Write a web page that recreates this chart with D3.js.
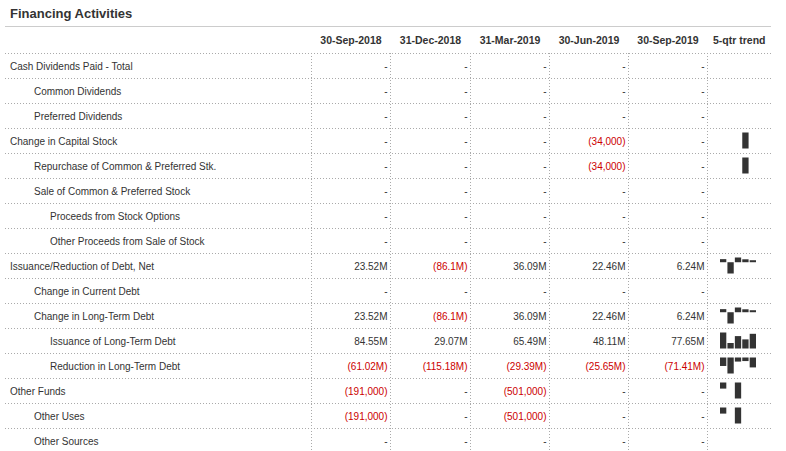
<!DOCTYPE html><html><head><meta charset="utf-8">
<script src="https://d3js.org/d3.v7.min.js"></script>
<style>body{margin:0;background:#fff}</style></head><body><svg id="c" width="786" height="451"></svg>
<script>
const title = "Financing Activities";
const periods = ["30-Sep-2018","31-Dec-2018","31-Mar-2019","30-Jun-2019","30-Sep-2019"];
const labels = ["Cash Dividends Paid - Total","Common Dividends","Preferred Dividends","Change in Capital Stock","Repurchase of Common & Preferred Stk.","Sale of Common & Preferred Stock","Proceeds from Stock Options","Other Proceeds from Sale of Stock","Issuance/Reduction of Debt, Net","Change in Current Debt","Change in Long-Term Debt","Issuance of Long-Term Debt","Reduction in Long-Term Debt","Other Funds","Other Uses","Other Sources"];
const levels = [0,1,1,0,1,1,2,2,0,1,1,2,2,0,1,1];
const displayText = [
 ["-","-","-","-","-"],["-","-","-","-","-"],["-","-","-","-","-"],
 ["-","-","-","(34,000)","-"],["-","-","-","(34,000)","-"],
 ["-","-","-","-","-"],["-","-","-","-","-"],["-","-","-","-","-"],
 ["23.52M","(86.1M)","36.09M","22.46M","6.24M"],["-","-","-","-","-"],
 ["23.52M","(86.1M)","36.09M","22.46M","6.24M"],
 ["84.55M","29.07M","65.49M","48.11M","77.65M"],
 ["(61.02M)","(115.18M)","(29.39M)","(25.65M)","(71.41M)"],
 ["(191,000)","-","(501,000)","-","-"],["(191,000)","-","(501,000)","-","-"],
 ["-","-","-","-","-"]];
const values = [
 [null,null,null,null,null],[null,null,null,null,null],[null,null,null,null,null],
 [null,null,null,-34000,null],[null,null,null,-34000,null],
 [null,null,null,null,null],[null,null,null,null,null],[null,null,null,null,null],
 [23.52e6,-86.1e6,36.09e6,22.46e6,6.24e6],[null,null,null,null,null],
 [23.52e6,-86.1e6,36.09e6,22.46e6,6.24e6],
 [84.55e6,29.07e6,65.49e6,48.11e6,77.65e6],
 [-61.02e6,-115.18e6,-29.39e6,-25.65e6,-71.41e6],
 [-191000,null,-501000,null,null],[-191000,null,-501000,null,null],
 [null,null,null,null,null]];
const trendHeader = "5-qtr trend";

const svg = d3.select("#c");
const font = "'Liberation Sans', Arial, sans-serif";
svg.append("text").attr("x",10).attr("y",18).text(title).attr("font-family",font).attr("font-weight","bold").attr("font-size",13).attr("fill","#333");
svg.append("line").attr("x1",5).attr("x2",771).attr("y1",26.5).attr("y2",26.5).attr("stroke","#ccc").attr("stroke-width",1);
const colEdges = [311.5,390.5,470.5,549.5,628.5,707.5,771];
const rowTop = 53, rowH = 25;
const y = i => rowTop + i*rowH;
periods.forEach((p,j)=>svg.append("text").attr("x",(colEdges[j]+colEdges[j+1])/2).attr("y",44).attr("text-anchor","middle").text(p).attr("font-family",font).attr("font-weight","bold").attr("font-size",10.5).attr("fill","#333"));
svg.append("text").attr("x",(colEdges[5]+colEdges[6])/2).attr("y",44).attr("text-anchor","middle").text(trendHeader).attr("font-family",font).attr("font-weight","bold").attr("font-size",10.5).attr("fill","#333");
const grid = svg.append("g").attr("stroke","#aaa").attr("stroke-dasharray","1,2").attr("stroke-width",1);
for(let i=0;i<=labels.length;i++) grid.append("line").attr("x1",5).attr("x2",771).attr("y1",y(i)+0.5).attr("y2",y(i)+0.5);
colEdges.slice(0,6).forEach(x=>grid.append("line").attr("x1",x).attr("x2",x).attr("y1",rowTop).attr("y2",y(labels.length)));
const indent=[10,34,50];
const xs = d3.scaleBand().domain(d3.range(5)).range([720,756]).paddingInner(0.15);
labels.forEach((l,i)=>{
  const cy=y(i)+rowH/2+4;
  svg.append("text").attr("x",indent[levels[i]]).attr("y",cy).text(l).attr("font-family",font).attr("font-size",10).attr("fill","#333");
  displayText[i].forEach((t,j)=>svg.append("text").attr("x",colEdges[j+1]-3).attr("y",cy).attr("text-anchor","end").text(t).attr("font-family",font).attr("font-size",10).attr("fill",t.startsWith("(")?"#cc0000":"#333"));
  const vals=values[i];
  if(vals.some(v=>v!==null)){
    const nums=vals.map(v=>v??0);
    const ys=d3.scaleLinear().domain([Math.min(0,d3.min(nums)),Math.max(0,d3.max(nums))]).range([y(i)+rowH/2+8,y(i)+rowH/2-8]);
    vals.forEach((v,j)=>{ if(v===null||v===0) return;
      const h=Math.max(2,Math.abs(ys(v)-ys(0)));
      const top = v>0 ? ys(0)-h : ys(0);
      svg.append("rect").attr("x",xs(j)).attr("width",xs.bandwidth()).attr("y",top).attr("height",h).attr("fill","#333");});
  }
});
</script></body></html>
